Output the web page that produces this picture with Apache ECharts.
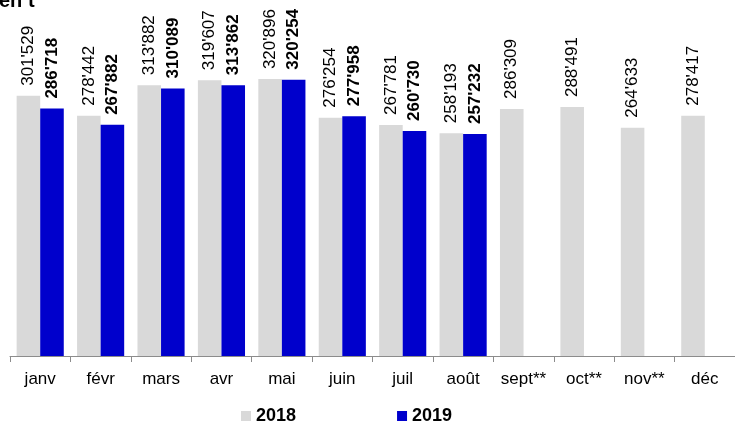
<!DOCTYPE html>
<html>
<head>
<meta charset="utf-8">
<script src="https://cdn.jsdelivr.net/npm/echarts@6/dist/echarts.min.js"></script>
<style>
  html, body { margin: 0; padding: 0; background: #fff; }
  #chart { width: 735px; height: 421px; }
</style>
</head>
<body>
<div id="chart"></div>
<script>
// mois
var months = ['janv', 'févr', 'mars', 'avr', 'mai', 'juin', 'juil', 'août', 'sept**', 'oct**', 'nov**', 'déc'];
// valeurs 2018
var values2018 = [301529, 278442, 313882, 319607, 320896, 276254, 267781, 258193, 286309, 288491, 264633, 278417];
// valeurs 2019 (jusqu'à août)
var values2019 = [286718, 267882, 310089, 313862, 320254, 277958, 260730, 257232, null, null, null, null];

// format 301'529
function fmt(v) {
    return String(v).replace(/\B(?=(\d{3})+(?!\d))/g, "'");
}

var myChart = echarts.init(document.getElementById('chart'));

var option = {
    animation: false,
    textStyle: { fontFamily: 'Liberation Sans, Arial, sans-serif' },
    // reste du titre, coupé en haut
    graphic: [{
        type: 'text',
        left: -1,
        top: -9,
        style: { text: 'en t', font: 'bold 20px Liberation Sans, Arial', fill: '#000' }
    }],
    legend: {
        left: 236,
        top: 402,
        icon: 'rect',
        itemWidth: 10,
        itemHeight: 10,
        itemGap: 101,
        textStyle: { fontSize: 18, fontWeight: 'bold', color: '#000' },
        data: ['2018', '2019']
    },
    grid: { left: 10, right: -5, top: 54, bottom: 65 },
    xAxis: {
        type: 'category',
        data: months,
        axisLine: { show: true, lineStyle: { color: '#8c8c8c', width: 1 } },
        axisTick: { show: true, length: 6, lineStyle: { color: '#8c8c8c', width: 1 } },
        axisLabel: { color: '#000', fontSize: 17, margin: 15, interval: 0 }
    },
    yAxis: {
        type: 'value',
        min: 0,
        max: 350000,
        show: false,
        splitLine: { show: false }
    },
    series: [
        {
            name: '2018',
            type: 'bar',
            data: values2018,
            barGap: '0%',
            barCategoryGap: '22%',
            itemStyle: { color: '#d9d9d9' },
            label: {
                show: true,
                position: 'top',
                rotate: 90,
                align: 'left',
                verticalAlign: 'middle',
                distance: 10,
                fontSize: 17,
                color: '#000',
                formatter: function (p) { return fmt(p.value); }
            }
        },
        {
            name: '2019',
            type: 'bar',
            data: values2019,
            itemStyle: { color: '#0000cc' },
            label: {
                show: true,
                position: 'top',
                rotate: 90,
                align: 'left',
                verticalAlign: 'middle',
                distance: 10,
                fontSize: 17,
                fontWeight: 'bold',
                color: '#000',
                formatter: function (p) { return p.value == null ? '' : fmt(p.value); }
            }
        }
    ]
};

myChart.setOption(option);
</script>
</body>
</html>
